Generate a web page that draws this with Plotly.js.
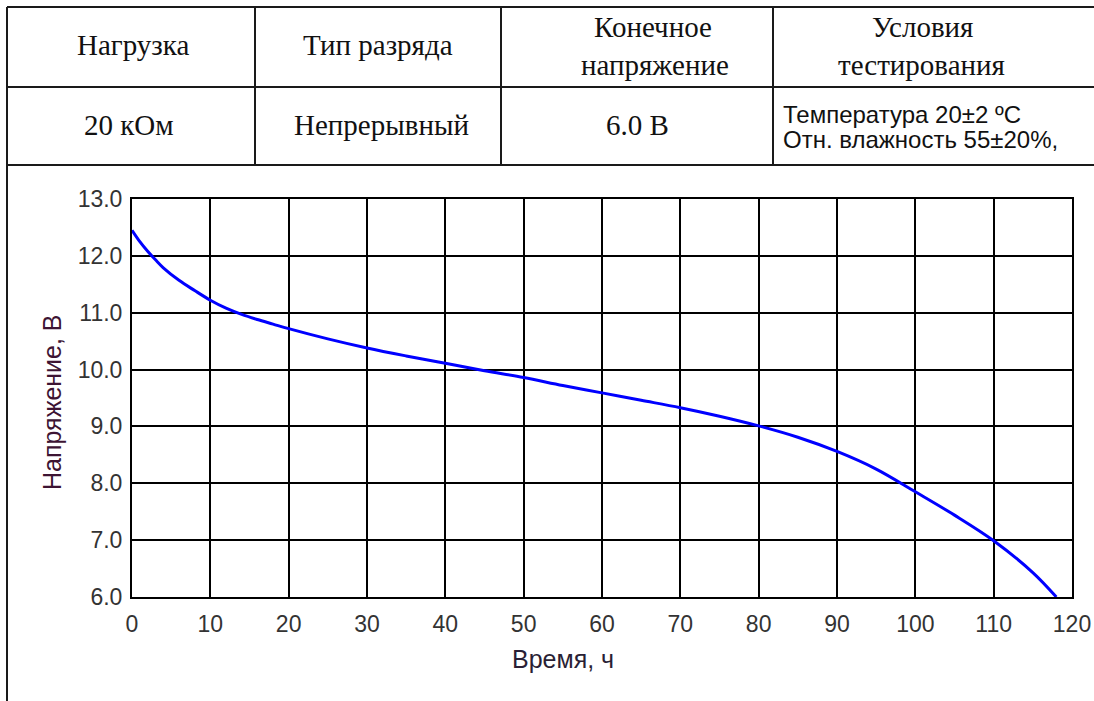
<!DOCTYPE html>
<html>
<head>
<meta charset="utf-8">
<script src="https://cdn.plot.ly/plotly-3.0.1.min.js"></script>
<style>html,body{margin:0;padding:0;background:#fff;}#chart{width:1094px;height:701px;}</style>
</head>
<body>
<div id="chart"></div>
<script>
// ---- data ----
const timeHours = [0, 1, 2, 3, 4, 6, 8, 10, 12, 14, 16, 18, 20, 25, 30, 35, 40, 45, 50, 55, 60, 65, 70, 75, 80, 85, 90, 95, 100, 105, 110, 115, 118];
const voltage   = [12.45, 12.25, 12.08, 11.93, 11.79, 11.57, 11.39, 11.22, 11.08, 10.97, 10.88, 10.80, 10.72, 10.54, 10.38, 10.24, 10.11, 9.98, 9.86, 9.72, 9.59, 9.46, 9.33, 9.18, 9.01, 8.81, 8.56, 8.25, 7.85, 7.44, 6.99, 6.43, 6.0];
const xTickVals = [0, 10, 20, 30, 40, 50, 60, 70, 80, 90, 100, 110, 120];
const yTickVals = [6, 7, 8, 9, 10, 11, 12, 13];
const yTickText = ["6.0", "7.0", "8.0", "9.0", "10.0", "11.0", "12.0", "13.0"];
const tableHeaders = ["Нагрузка", "Тип разряда", "Конечное", "напряжение", "Условия", "тестирования"];
const tableValues = ["20 кОм", "Непрерывный", "6.0 В"];
const testConditions = ["Температура 20±2 ºC", "Отн. влажность 55±20%,"];
const xTitle = "Время, ч";
const yTitle = "Напряжение, В";

// ---- layout helpers (pixel -> paper) ----
const W = 1094, H = 701, L = 132, R = 1072, T = 199, B = 597;
const px = x => (x - L) / (R - L);
const py = y => (B - y) / (B - T);

const lineStyle = {color: '#1a1a1a', width: 2};
function hline(y, x0, x1) { return {type: 'line', xref: 'paper', yref: 'paper', x0: px(x0), x1: px(x1), y0: py(y), y1: py(y), line: lineStyle}; }
function vline(x, y0, y1) { return {type: 'line', xref: 'paper', yref: 'paper', x0: px(x), x1: px(x), y0: py(y0), y1: py(y1), line: lineStyle}; }

const shapes = [
  hline(7, 7, 1100), hline(87, 7, 1100), hline(165, 7, 1100),
  vline(7, 7, 705), vline(255, 7, 165), vline(501, 7, 165), vline(773, 7, 165)
];

const serif = {family: 'Liberation Serif, Times New Roman, serif', size: 29, color: '#111'};
const sans = {family: 'Liberation Sans, Arial, sans-serif', size: 24, color: '#111'};
function ann(text, x, y, font, xanchor) {
  return {text: text, xref: 'paper', yref: 'paper', x: px(x), y: py(y), xanchor: xanchor || 'center', yanchor: 'middle', showarrow: false, font: font};
}
const annotations = [
  ann(tableHeaders[0], 133, 45, serif),
  ann(tableHeaders[1], 378, 45, serif),
  ann(tableHeaders[2], 653, 27, serif),
  ann(tableHeaders[3], 655, 65, serif),
  ann(tableHeaders[4], 922, 27, serif),
  ann(tableHeaders[5], 921, 65, serif),
  ann(tableValues[0], 129, 125, serif),
  ann(tableValues[1], 381, 125, serif),
  ann(tableValues[2], 637, 125, serif),
  ann(testConditions[0], 781, 114, sans, 'left'),
  ann(testConditions[1], 781, 139, sans, 'left'),
  ann(xTitle, 563, 659, {family: 'Liberation Sans, Arial, sans-serif', size: 25, color: '#2a1f35'}),
  Object.assign(ann(yTitle, 52, 402, {family: 'Liberation Sans, Arial, sans-serif', size: 25, color: '#3d1433'}), {textangle: -90})
];

const trace = {
  x: timeHours, y: voltage, type: 'scatter', mode: 'lines',
  line: {color: '#0000ff', width: 3, shape: 'spline', smoothing: 1},
  hoverinfo: 'x+y'
};

const layout = {
  width: W, height: H,
  margin: {l: L, r: W - R, t: T, b: H - B, pad: 0},
  paper_bgcolor: '#ffffff', plot_bgcolor: '#ffffff',
  showlegend: false,
  xaxis: {
    range: [0, 120], tickvals: xTickVals, ticktext: xTickVals.map(String),
    showgrid: true, gridcolor: '#000000', gridwidth: 2,
    showline: true, linecolor: '#000000', linewidth: 2, mirror: true,
    zeroline: false, ticks: 'outside', ticklen: 5, tickcolor: 'rgba(0,0,0,0)',
    tickfont: {family: 'Liberation Sans, Arial, sans-serif', size: 23, color: '#333'}
  },
  yaxis: {
    range: [6, 13], tickvals: yTickVals, ticktext: yTickText,
    showgrid: true, gridcolor: '#000000', gridwidth: 2,
    showline: true, linecolor: '#000000', linewidth: 2, mirror: true,
    zeroline: false, ticks: 'outside', ticklen: 3, tickcolor: 'rgba(0,0,0,0)',
    tickfont: {family: 'Liberation Sans, Arial, sans-serif', size: 23, color: '#333'}
  },
  shapes: shapes,
  annotations: annotations
};

Plotly.newPlot('chart', [trace], layout, {displayModeBar: false, staticPlot: true});
</script>
</body>
</html>
